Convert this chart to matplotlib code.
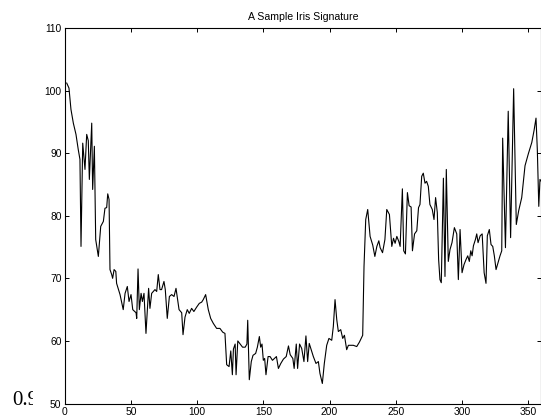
import matplotlib
matplotlib.use("Agg")
import matplotlib.pyplot as plt
from matplotlib.transforms import Bbox, TransformedBbox

title = "A Sample Iris Signature"
xticks = [0, 50, 100, 150, 200, 250, 300, 350]
yticks = [50, 60, 70, 80, 90, 100, 110]

angle = [1.3, 3, 4.5, 6.3, 8.3, 10, 11.3, 12.1, 13.4, 15.1, 16.4, 17.6, 18.4, 20.2, 20.9, 22.2, 23.2, 25.2, 27, 29,
         30.2, 31.5, 32.3, 33.3, 34, 35.3, 36, 37.1, 38.4, 39, 41.6, 44, 45.4, 47.1, 48.4, 49.9, 51.2, 53.7, 54.2, 55.2,
         56.2, 57.5, 58.5, 59.7, 61.2, 63.2, 64.2, 65.5, 66.8, 68, 69.3, 70.5, 71.8, 73, 74.8, 75.8, 77.3, 78.9, 80.6, 82.4,
         83.9, 86.2, 88.2, 89.2, 90.7,
         92.4, 93.9, 95.7, 97.4, 99.5, 101.5, 103.3, 104.5, 106.3, 108.3, 110.1, 112.1, 114.6, 117.1, 119.2, 120.9, 122.2,
         124, 125.3, 126.5, 127.3, 128.6, 129.3, 130.6, 132.4, 134.2, 136.2, 137.5, 138.1, 139.3, 140.8, 142.1, 144.1,
         145.4, 146.9, 147.9, 148.9, 149.9, 150.9, 151.9, 153.5, 155, 156.8, 158.3, 159.8, 161.3, 163.1, 165.1, 167.2,
         168.9, 170.2, 172.2, 173.2, 174.8, 175.8, 177.3,
         178.9, 180.6, 182.1, 183.4, 184.6, 186.2, 187.7, 189.7, 191.5, 192.7, 194.5, 196, 197.8, 199.5, 201.6, 202.8,
         204.1, 205.4, 206.6, 208.4, 209.9, 211.2, 212.9, 214.2, 215.9, 217.9, 220.5, 222.5, 225, 226, 227.3, 228.8,
         230.6, 232.6, 234.2, 235.7, 237.2, 238.2, 240, 241.8, 243.2, 245.2, 247, 248.3, 249.5, 250.8, 252.3, 253.3,
         255, 256, 257.3, 258.8, 260.1, 261.6, 262.6, 264.2, 265.9, 267.2, 268.3, 269.6, 270.8, 272.1, 273.3, 274.6,
         275.8, 277.6, 278.9, 280.1, 281.4, 282.4, 283.4, 284.4, 286, 287.2, 288.2, 289.7, 291, 292.5, 294.3, 296.1,
         297.3, 298.6, 300.1, 301.6, 303.1, 304.4, 305.6, 306.7, 307.7, 308.7, 310.2, 311.2, 312.2, 313.8, 315.3, 316.8,
         318.2, 319.2, 320.7, 322, 323.3, 324.5, 325.8, 327.3, 328.8, 330.1, 330.8, 332.9, 335, 336.8, 339.1, 341.1,
         342.9, 345.2, 347.7, 350.2, 352.8, 354.5, 356, 357, 358.1, 359, 360]

signature = [101.2, 100.4, 97, 94.8, 93, 90.6, 89, 75.1, 91.6, 87.4, 93, 92, 85.8, 94.8, 84.2, 91.1, 76.2, 73.5, 78.3, 79.1,
             81.2, 81.3, 83.5, 82.6, 71.4, 70.6, 70, 71.4, 71.1, 69.2, 67.4, 65, 67.6, 68.7, 66.3, 67.4, 65, 64.5, 63.6, 71.5,
             65, 67.6, 66.3, 67.6, 61.2, 68.4, 65.2, 67.6, 67.9, 68.2, 67.9, 70.6, 68.2, 68.2, 69.5, 68.2, 63.6, 67.1, 67.4, 67.1,
             68.4, 65, 64.5, 61, 63.8,
             65, 64.4, 65.2, 64.7, 65.4, 66, 66.2, 66.6, 67.4, 65, 63.6, 62.8, 62, 62, 61.4, 61.2, 56.2,
             55.9, 58.4, 54.6, 58.7, 59.5, 54.6, 60, 59.5, 59, 59, 59.5, 63.3, 53.8, 56.7, 57.7, 58,
             59, 60.7, 59, 59.5, 56.9, 57.2, 54.6, 57.5, 57.5, 56.9, 57.2, 57.5, 55.6, 56.4, 57.1, 57.5,
             59.2, 57.8, 57.2, 55.6, 59.5, 55.6, 59.5,
             58.8, 56.7, 60.8, 56.7, 59.6, 58.5, 57.5, 56.4, 56.7, 54.8, 53.2, 56.4, 59.3, 60.4, 60.1, 62.3,
             66.6, 63.4, 61.5, 61.8, 60.4, 60.9, 58.6, 59.3, 59.3, 59.3, 59.1, 59.8, 60.9, 71.9, 79.4, 81,
             76.7, 75.3, 73.5, 75.1, 76, 74.9, 74.1, 76.2, 81, 80.2, 75.1, 76.4, 75.6, 76.7, 75.9, 75.1,
             84.3, 74.4, 73.9, 83.7, 81.6, 81.4, 74.4, 77.1, 77.6, 81.3, 81.8, 86.3, 86.8, 85.2, 85.5, 84.7,
             81.8, 81, 79.4, 82.9, 80.5, 73, 69.8, 69.3, 86, 70.3, 87.4, 72.7, 74.6, 75.7, 78.1, 77.1,
             69.8, 77.8, 70.9, 72.2, 73, 73.6, 72.7, 74.4, 73.6, 75.2, 76.2, 77.1, 75.7, 76.8, 77.1, 70.9,
             69.2, 76.8, 77.8, 75.4, 75.1, 73.6, 71.4, 72.5, 73.6, 74.4, 92.4, 74.9, 96.7, 76.5, 100.3, 78.6,
             80.8, 82.9, 88, 89.9, 91.7, 93.6, 95.6, 90.5, 81.5, 85.8, 85.5]

W, H = 541, 419
fig = plt.figure(figsize=(W / 100, H / 100), dpi=100)
ax = fig.add_axes([65 / W, 15.5 / H, 476.3 / W, 375.5 / H])
ax.plot(angle, signature, color="black", lw=0.8)
ax.set_xlim(0, 360)
ax.set_ylim(50, 110)
ax.set_xticks(xticks)
ax.set_yticks(yticks)
ax.tick_params(direction="in", length=3, width=0.7, top=True, right=True,
               labelsize=7.4, pad=2.5)
for lab in ax.get_xticklabels() + ax.get_yticklabels():
    lab.set_fontfamily("Liberation Sans")
for s in ax.spines.values():
    s.set_linewidth(0.8)
ax.set_title(title, fontsize=7.6, fontfamily="Liberation Sans", pad=5.5)

t = fig.text(12 / W, 1 - 404.5 / H, "0.9", fontfamily="Liberation Serif", fontsize=15,
             va="baseline", ha="left")
t.set_clip_box(TransformedBbox(Bbox([[0, 0], [33 / W, 1]]), fig.transFigure))
t.set_clip_on(True)

fig.savefig("out.png", dpi=100)
